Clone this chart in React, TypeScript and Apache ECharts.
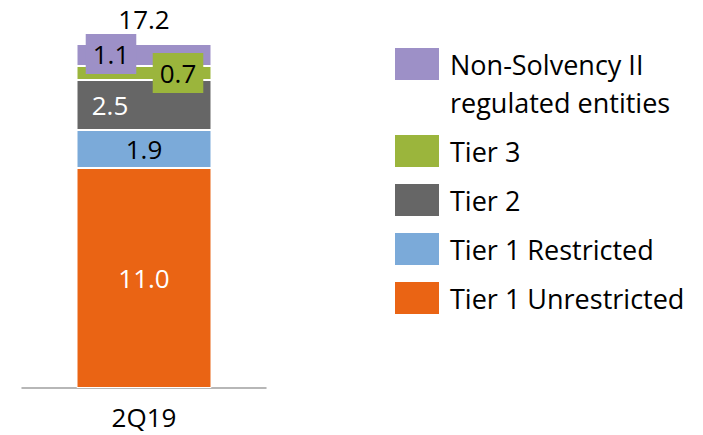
import React, { useEffect, useRef } from "react";
import * as echarts from "echarts";

const categories = ["2Q19"];
const seriesNames = [
  "Tier 1 Unrestricted",
  "Tier 1 Restricted",
  "Tier 2",
  "Tier 3",
  "Non-Solvency II regulated entities",
];
const tier1Unrestricted = [11.0];
const tier1Restricted = [1.9];
const tier2 = [2.5];
const tier3 = [0.7];
const nonSolvency = [1.1];
const totals = [17.2];

const colors = ["#EA6414", "#7BAAD9", "#666666", "#9BB53C", "#9D90C7"];
const FONT = "Open Sans";

export default function App() {
  const ref = useRef<HTMLDivElement>(null);
  useEffect(() => {
    document.body.style.margin = "0";
    if (!ref.current) return;
    const chart = echarts.init(ref.current, undefined, { renderer: "svg" });
    const fmt = (p: any) => Number(p.value).toFixed(1);
    const base = {
      type: "bar",
      stack: "total",
      barWidth: 135,
      itemStyle: { borderColor: "#fff", borderWidth: 1 },
    };
    const lbl = { show: true, position: "inside", fontFamily: FONT, fontSize: 26, formatter: fmt };
    chart.setOption({
      animation: false,
      textStyle: { fontFamily: FONT },
      grid: { left: 22, width: 244, top: 44, bottom: 47 },
      xAxis: {
        type: "category",
        data: categories,
        axisLine: { lineStyle: { color: "#A0A0A0", width: 1.5 } },
        axisTick: { show: false },
        axisLabel: { color: "#000", fontSize: 26, lineHeight: 26, fontFamily: FONT, margin: 16 },
      },
      yAxis: { type: "value", min: 0, max: 17.2, show: false },
      legend: [
        {
          orient: "vertical",
          left: 395,
          top: 7,
          padding: 0,
          itemWidth: 44,
          itemHeight: 32,
          icon: "rect",
          data: [seriesNames[4]],
          itemStyle: { borderWidth: 0 },
          formatter: () => "\nNon-Solvency II\nregulated entities",
          textStyle: { fontSize: 27, fontFamily: FONT, color: "#000", lineHeight: 38, padding: [0, 0, 0, 6] },
        },
        {
          orient: "vertical",
          left: 395,
          top: 135,
          padding: 0,
          itemWidth: 44,
          itemHeight: 32,
          itemGap: 17,
          icon: "rect",
          data: [seriesNames[3], seriesNames[2], seriesNames[1], seriesNames[0]],
          itemStyle: { borderWidth: 0 },
          textStyle: { fontSize: 27, fontFamily: FONT, color: "#000", lineHeight: 32, padding: [0, 0, 0, 6] },
        },
      ],
      series: [
        { ...base, name: seriesNames[0], data: tier1Unrestricted, itemStyle: { ...base.itemStyle, color: colors[0] }, label: { ...lbl, color: "#fff" } },
        { ...base, name: seriesNames[1], data: tier1Restricted, itemStyle: { ...base.itemStyle, color: colors[1] }, label: { ...lbl, color: "#000" } },
        { ...base, name: seriesNames[2], data: tier2, itemStyle: { ...base.itemStyle, color: colors[2] }, label: { ...lbl, color: "#fff", offset: [-34, 0] } },
        {
          ...base, name: seriesNames[3], data: tier3, itemStyle: { ...base.itemStyle, color: colors[3] },
          label: { ...lbl, color: "#000", offset: [34, 0], backgroundColor: colors[3], padding: [5, 7], lineHeight: 30 },
        },
        {
          ...base, name: seriesNames[4], data: nonSolvency, itemStyle: { ...base.itemStyle, color: colors[4] },
          label: { ...lbl, color: "#000", offset: [-33, -1], backgroundColor: colors[4], padding: [5, 7], lineHeight: 30 },
        },
        {
          type: "bar",
          stack: "total",
          barWidth: 135,
          name: "Total",
          data: totals.map(() => 0),
          itemStyle: { color: "transparent", borderWidth: 0 },
          label: {
            show: true,
            position: "top",
            distance: 12,
            color: "#000",
            fontFamily: FONT,
            fontSize: 26,
            formatter: (p: any) => totals[p.dataIndex].toFixed(1),
          },
        },
      ],
    });
    return () => chart.dispose();
  }, []);
  return <div ref={ref} style={{ width: 703, height: 435 }} />;
}
